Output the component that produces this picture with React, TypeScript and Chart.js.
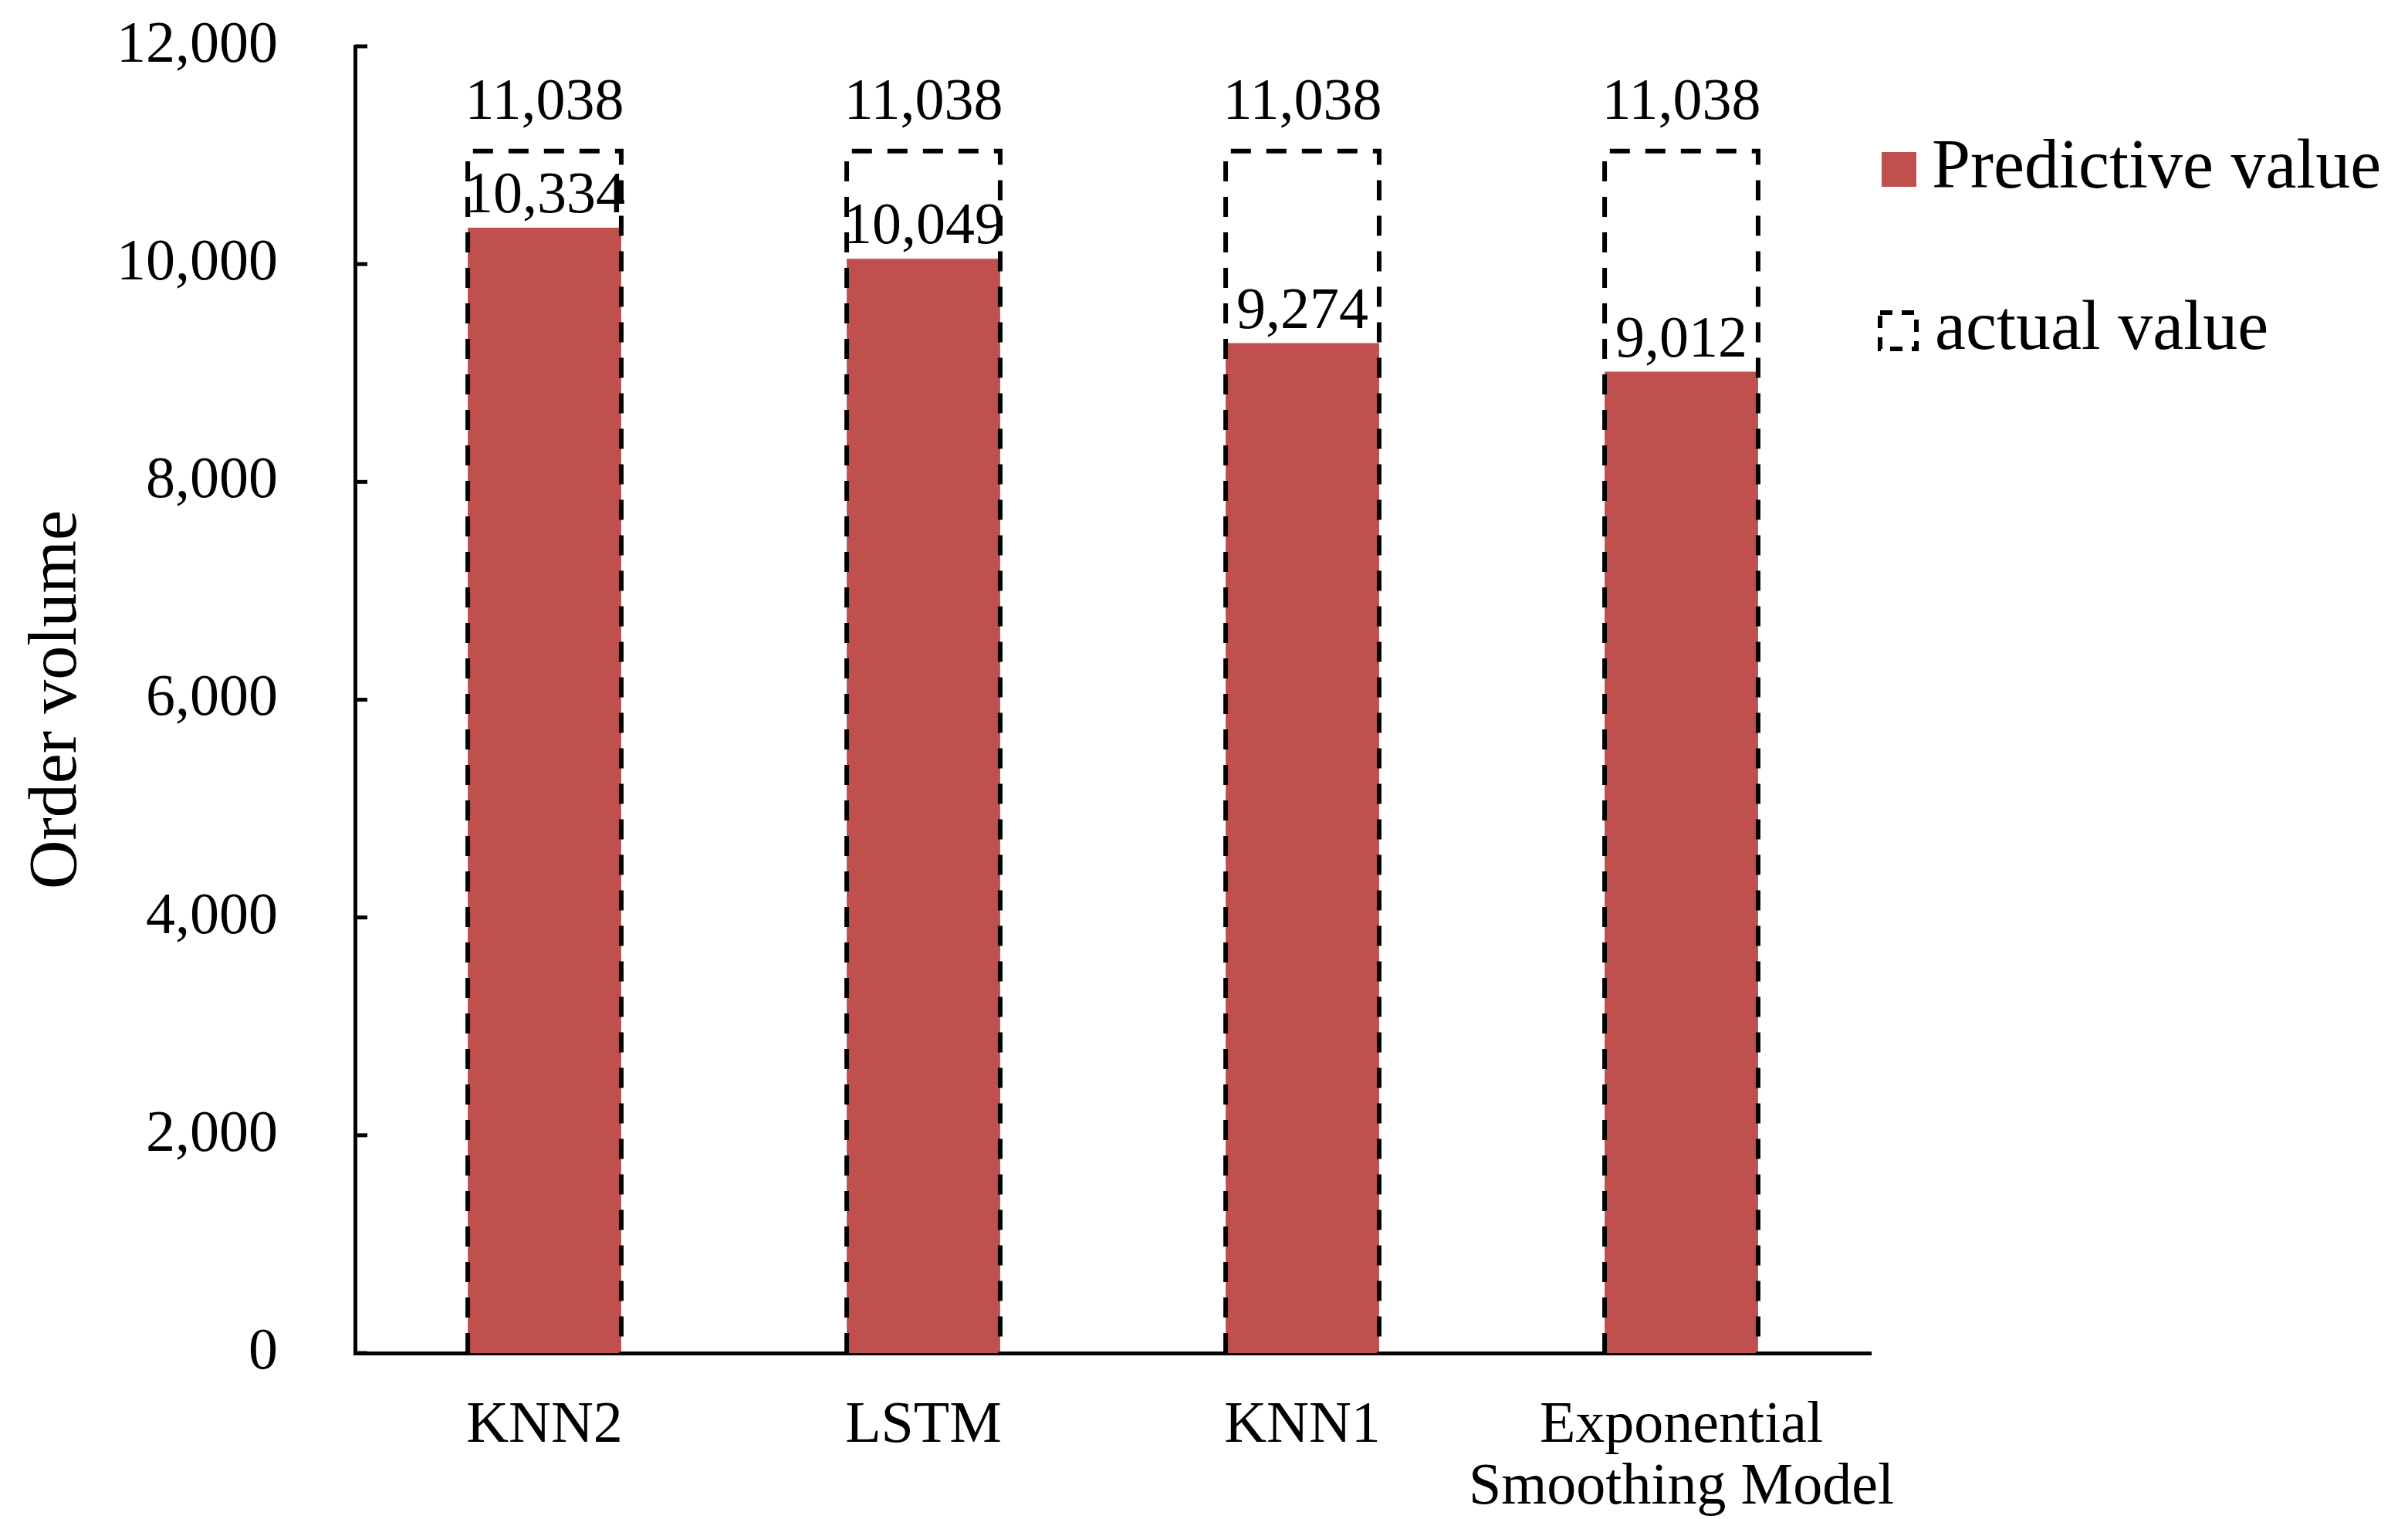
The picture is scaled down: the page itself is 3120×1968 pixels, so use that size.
import React, { useEffect, useRef } from "react";
import { Chart, registerables } from "chart.js";
Chart.register(...registerables);

const categories: string[][] = [["KNN2"], ["LSTM"], ["KNN1"], ["Exponential", "Smoothing Model"]];
const predictiveValues = [10334, 10049, 9274, 9012];
const actualValues = [11038, 11038, 11038, 11038];
const yTicks = [0, 2000, 4000, 6000, 8000, 10000, 12000];
const seriesNames = ["Predictive value", "actual value"];
const yTitle = "Order volume";

const FONT = '"Liberation Serif", "Times New Roman", serif';
const RED = "#C0504D";
const fmt = (v: number) => Number(v).toLocaleString("en-US");

const overlay = {
  id: "overlay",
  afterDatasetsDraw(chart: any) {
    const ctx = chart.ctx as CanvasRenderingContext2D;
    const metaPred = chart.getDatasetMeta(0);
    const metaAct = chart.getDatasetMeta(1);
    const area = chart.chartArea;
    ctx.save();
    // dashed boxes for actual values
    ctx.strokeStyle = "#000";
    ctx.lineWidth = 6;
    ctx.setLineDash([26, 20]);
    metaAct.data.forEach((el: any) => {
      const { x, y, base, width } = el.getProps(["x", "y", "base", "width"], true);
      const l = x - width / 2;
      const r = x + width / 2;
      ctx.beginPath();
      ctx.moveTo(l, base);
      ctx.lineTo(l, y);
      ctx.lineTo(r, y);
      ctx.lineTo(r, base);
      ctx.stroke();
    });
    ctx.setLineDash([]);
    // value labels
    ctx.font = `76px ${FONT}`;
    ctx.fillStyle = "#000";
    ctx.textAlign = "center";
    ctx.textBaseline = "alphabetic";
    metaAct.data.forEach((el: any, i: number) => {
      ctx.fillText(fmt(actualValues[i]), el.x, el.y - 42);
    });
    metaPred.data.forEach((el: any, i: number) => {
      ctx.fillText(fmt(predictiveValues[i]), el.x, el.y - 20);
    });
    // inward tick marks on y axis
    const ys = chart.scales.y;
    ctx.strokeStyle = "#000";
    ctx.lineWidth = 5;
    ys.ticks.forEach((t: any) => {
      const py = ys.getPixelForValue(t.value);
      ctx.beginPath();
      ctx.moveTo(ys.right, py);
      ctx.lineTo(ys.right + 16, py);
      ctx.stroke();
    });
    // legend
    const lx = area.right + 14;
    const y1 = area.top + 159;
    const y2 = y1 + 209;
    ctx.fillStyle = RED;
    ctx.fillRect(lx, y1 - 22, 45, 45);
    ctx.strokeStyle = "#000";
    ctx.lineWidth = 6;
    ctx.setLineDash([16, 12]);
    ctx.strokeRect(lx - 2, y2 - 23, 47, 47);
    ctx.setLineDash([]);
    ctx.fillStyle = "#000";
    ctx.font = `90px ${FONT}`;
    ctx.textAlign = "left";
    ctx.textBaseline = "middle";
    ctx.fillText(seriesNames[0], lx + 65, y1);
    ctx.fillText(seriesNames[1], lx + 69, y2);
    ctx.restore();
  },
};

export default function App() {
  const ref = useRef<HTMLCanvasElement | null>(null);
  useEffect(() => {
    document.body.style.margin = "0";
    const canvas = ref.current!;
    const chart = new Chart(canvas, {
      type: "bar",
      data: {
        labels: categories as any,
        datasets: [
          {
            label: seriesNames[0],
            data: predictiveValues,
            backgroundColor: RED,
            borderWidth: 0,
            grouped: false,
            categoryPercentage: 1,
            barPercentage: 0.405,
          } as any,
          {
            label: seriesNames[1],
            data: actualValues,
            backgroundColor: "rgba(0,0,0,0)",
            borderWidth: 0,
            grouped: false,
            categoryPercentage: 1,
            barPercentage: 0.405,
          } as any,
        ],
      },
      options: {
        responsive: false,
        animation: false,
        devicePixelRatio: 1,
        layout: { padding: { left: 0, top: 60, right: 696, bottom: 0 } },
        plugins: { legend: { display: false }, tooltip: { enabled: false } },
        scales: {
          x: {
            grid: { display: false },
            border: { display: true, color: "#000", width: 5 },
            ticks: {
              color: "#000",
              font: { family: FONT, size: 76, lineHeight: 1.04 },
              padding: 48,
              maxRotation: 0,
              autoSkip: false,
            },
            afterFit: (s: any) => {
              s.height = 215;
              s.paddingLeft = 0;
              s.paddingRight = 0;
            },
          },
          y: {
            min: 0,
            max: 12000,
            afterBuildTicks: (s: any) => {
              s.ticks = yTicks.map((v) => ({ value: v }));
            },
            grid: { display: false },
            border: { display: true, color: "#000", width: 5 },
            ticks: {
              color: "#000",
              font: { family: FONT, size: 76 },
              padding: 92,
              callback: (v: any) => fmt(Number(v)),
            },
            title: {
              display: true,
              text: yTitle,
              color: "#000",
              font: { family: FONT, size: 88, lineHeight: 1 },
              padding: { top: 31, bottom: 0 },
            },
            afterFit: (s: any) => {
              s.width = 460;
              s.paddingTop = 0;
              s.paddingBottom = 0;
            },
          },
        },
      },
      plugins: [overlay],
    });
    return () => chart.destroy();
  }, []);
  return (
    <div style={{ width: 3120, height: 1968, background: "#fff" }}>
      <canvas ref={ref} width={3120} height={1968} style={{ width: 3120, height: 1968, display: "block" }} />
    </div>
  );
}
